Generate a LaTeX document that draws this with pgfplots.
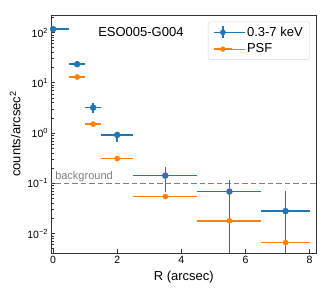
\documentclass[border=0pt]{standalone}
\usepackage{fontspec}
\setmainfont{Liberation Sans}
\usepackage{pgfplots}
\usepackage{pgfplotstable}
\pgfplotsset{compat=1.18}
\definecolor{c0}{HTML}{1F77B4}
\definecolor{c1}{HTML}{FF7F0E}
\pgfplotstableread{
x     y       ex    eyp     eym
0     117     0.5   2       2
0.75  23.4    0.25  0.8     0.8
1.25  3.2     0.25  0.8     0.65
2     0.917   0.5   0.153   0.242
3.5   0.142   1     0.073   0.0736
5.5   0.0684  1     0.0486  0.0674
7.25  0.0279  0.75  0.0437  0.0273
}\blue
\pgfplotstableread{
x     y       ex
0.75  13.0    0.25
1.25  1.50    0.25
2     0.31    0.5
3.5   0.0545  1
5.5   0.0179  1
7.25  0.0066  0.75
}\orange
\begin{document}
\begin{tikzpicture}
\begin{axis}[
  scale only axis,
  width=264.5pt, height=238pt,
  ymode=log,
  xmin=-0.05, xmax=8.2,
  ymin=0.0041, ymax=223,
  axis line style={black!80, line width=0.8pt},
  tick style={black!80, line width=0.6pt},
  tick align=inside,
  xtick pos=bottom, ytick pos=left,
  major tick length=4pt, minor tick length=2.2pt,
  xtick={0,2,4,6,8},
  ytick={0.01,0.1,1,10,100},
  yticklabels={10\textsuperscript{−2},10\textsuperscript{−1},10\textsuperscript{0},10\textsuperscript{1},10\textsuperscript{2}},
  minor ytick={0.005,0.006,0.007,0.008,0.009,0.02,0.03,0.04,0.05,0.06,0.07,0.08,0.09,0.2,0.3,0.4,0.5,0.6,0.7,0.8,0.9,2,3,4,5,6,7,8,9,20,30,40,50,60,70,80,90,200},
  /pgf/number format/assume math mode=true,
  tick label style={font=\fontsize{10.5}{12}\selectfont},
  label style={font=\fontsize{13}{15}\selectfont},
  xlabel={R (arcsec)},
  ylabel={counts/arcsec\textsuperscript{2}},
  legend style={at={(0.977,0.972)}, anchor=north east, draw=black!15, rounded corners=2pt, font=\fontsize{13}{15}\selectfont, row sep=2pt, inner xsep=5pt, inner ysep=3pt},
  legend cell align=left,
  clip=true,
]
\addplot[gray, dash pattern=on 5.5pt off 3pt, line width=1.2pt, forget plot] coordinates {(-1,0.1) (9,0.1)};
% blue error bars (drawn as plain pgfplots error bars, no marks)
\addplot[draw=none, mark=none, forget plot,
  error bars/.cd, x dir=both, x explicit, y dir=both, y explicit,
  error mark=none, error bar style={line width=1.6pt, draw=c0}]
  table[x=x, y=y, x error=ex, y error plus=eyp, y error minus=eym] {\blue};
\addplot[only marks, mark=*, mark size=3pt, color=c0, mark options={fill=c0, draw=c0},
  legend image code/.code={
    \path (0pt,0pt) -- (31pt,0pt);
    \draw[c0, line width=1.6pt] (0pt,0pt) -- (18pt,0pt);
    \draw[c0, line width=1.6pt] (9pt,-6pt) -- (9pt,6pt);
    \fill[c0] (9pt,0pt) circle (2.6pt);}]
  table[x=x, y=y] {\blue};
\addlegendentry{0.3-7 keV}
\addplot[draw=none, mark=none, forget plot,
  error bars/.cd, x dir=both, x explicit,
  error mark=none, error bar style={line width=1.6pt, draw=c1}]
  table[x=x, y=y, x error=ex] {\orange};
\addplot[only marks, mark=*, mark size=2.6pt, color=c1, mark options={fill=c1, draw=c1},
  legend image code/.code={
    \path (0pt,0pt) -- (31pt,0pt);
    \draw[c1, line width=1.6pt] (0pt,0pt) -- (18pt,0pt);
    \fill[c1] (9pt,0pt) circle (2.4pt);}]
  table[x=x, y=y] {\orange};
\addlegendentry{PSF}
\node[anchor=south west, text=gray, font=\fontsize{11}{13}\selectfont, inner sep=1pt] at (axis cs:0.03,0.1) {background};
\node[font=\fontsize{13}{15}\selectfont] at (rel axis cs:0.338,0.929) {ESO005-G004};
\end{axis}
\pgfresetboundingbox
\path[use as bounding box] (-51.5pt,-38pt) rectangle (272.5pt,253pt);
\end{tikzpicture}
\end{document}
